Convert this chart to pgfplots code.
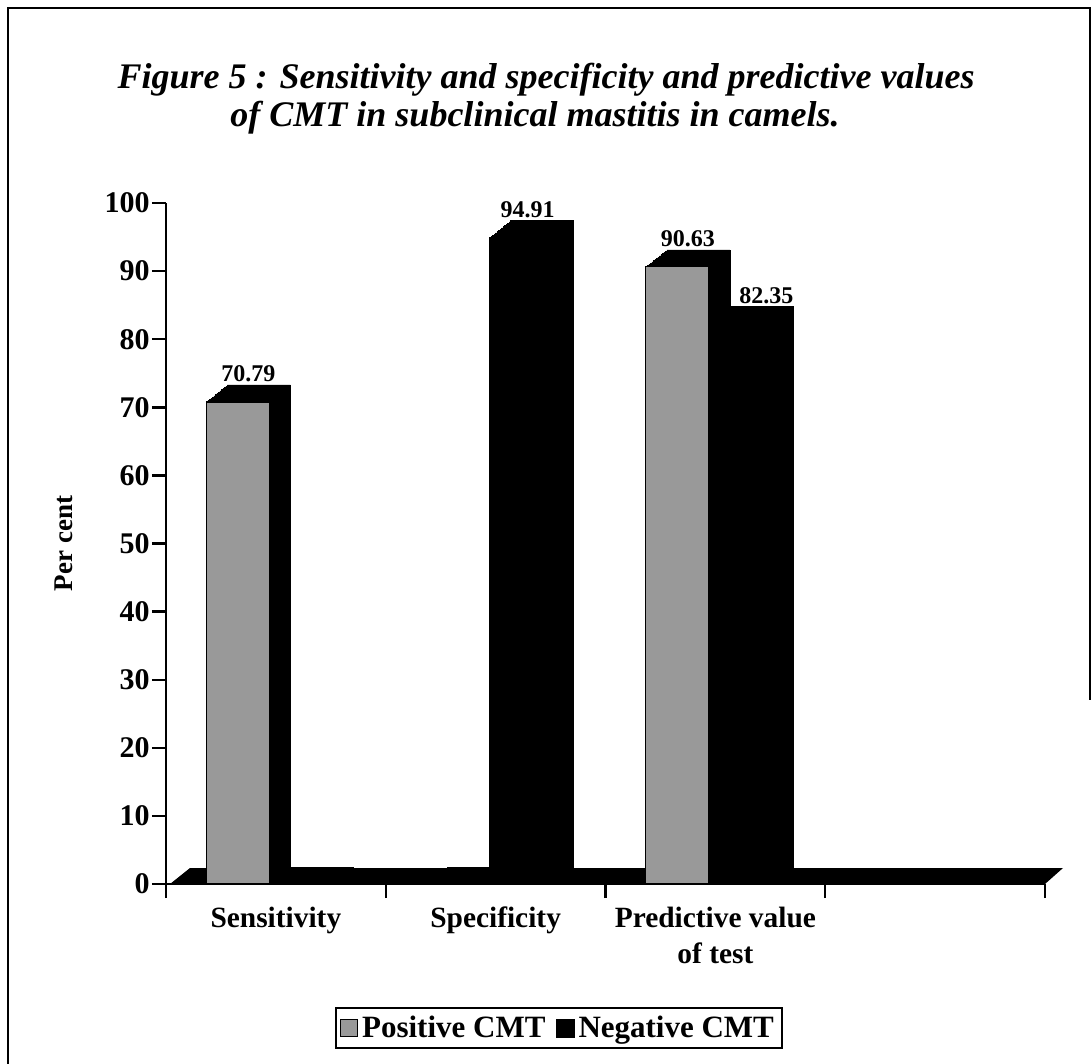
\documentclass[border=0pt]{standalone}
\usepackage{fontspec}
\setmainfont{Liberation Serif}
\usepackage{pgfplots}
\pgfplotsset{compat=1.18}
\begin{document}
\begin{tikzpicture}[x=0.5pt,y=-0.5pt]
\useasboundingbox (0,0) rectangle (1092,1064);
\draw[line width=1.2pt] (8,1064) -- (8,8) -- (1090,8) -- (1090,700);
\node[font=\bfseries\itshape\fontsize{18}{22}\selectfont, anchor=base] at (546,89) {Figure 5 : Sensitivity and specificity and predictive values};
\node[font=\bfseries\itshape\fontsize{18}{22}\selectfont, anchor=base] at (535,127) {of CMT in subclinical mastitis in camels.};
\fill[black] (170,884) -- (1045,884) -- (1063,868) -- (190,868) -- cycle;
\begin{axis}[
  at={(83pt,-442pt)}, anchor=south west,
  width=439.5pt, height=340.5pt, scale only axis,
  xmin=-0.5, xmax=3.5, ymin=0, ymax=100,
  axis x line*=bottom, axis y line*=left,
  axis line style={line width=1.2pt},
  every tick/.style={black, line width=1.2pt},
  tick align=outside,
  major tick length=7pt,
  ytick={0,10,...,100},
  xtick={-0.5,0.5,1.5,2.5,3.5},
  xticklabels={},
  extra x ticks={0,1,2},
  extra x tick labels={Sensitivity,Specificity,{Predictive value\\of test}},
  extra x tick style={major tick length=0pt, xticklabel style={yshift=-8pt}},
  xticklabel style={align=center, font=\bfseries\fontsize{14.7}{18}\selectfont},
  yticklabel style={font=\bfseries\fontsize{15}{18}\selectfont, inner sep=1pt},
  /pgf/number format/assume math mode=true,
  ylabel={Per cent},
  ylabel style={at={(axis description cs:-0.116,0.5)}, anchor=center, font=\bfseries\fontsize{13.5}{16}\selectfont},
  legend style={at={(axis description cs:0.447,-0.2115)}, anchor=center, legend columns=2, draw=black, line width=1pt,
    font=\bfseries\fontsize{15.5}{18}\selectfont, inner xsep=2pt, inner ysep=2pt,
    /tikz/every even column/.append style={column sep=3pt}},
  legend cell align=left,
]
\pgfplotsinvokeforeach{1,...,14}{
  \addplot[ybar, bar width=31.5pt, bar shift=-19pt, fill=black, draw=black, line width=0.3pt, forget plot,
    xshift=#1*0.75pt, yshift=#1*0.607pt] coordinates {(0,70.79) (1,0) (2,90.63)};
}
\addplot[ybar, bar width=31.5pt, bar shift=-19pt, fill=black!40, draw=black, line width=0.6pt, forget plot,
  point meta=explicit symbolic, nodes near coords,
  every node near coord/.append style={font=\bfseries\fontsize{12}{13}\selectfont, xshift=-13.75pt, yshift=8.5pt, anchor=south, inner sep=1pt}]
  coordinates {(0,70.79)[70.79] (1,0)[] (2,90.63)[90.63]};
\pgfplotsinvokeforeach{1,...,14}{
  \addplot[ybar, bar width=31.5pt, bar shift=12.75pt, fill=black, draw=black, line width=0.3pt, forget plot,
    xshift=#1*0.75pt, yshift=#1*0.607pt] coordinates {(0,0) (1,94.91) (2,82.35)};
}
\addplot[ybar, bar width=31.5pt, bar shift=12.75pt, fill=black, draw=black, line width=0.6pt, forget plot,
  point meta=explicit symbolic, nodes near coords,
  every node near coord/.append style={font=\bfseries\fontsize{12}{13}\selectfont, xshift=16pt, yshift=8.5pt, anchor=south, inner sep=1pt}]
  coordinates {(0,0)[] (1,94.91)[94.91]};
\addplot[ybar, bar width=31.5pt, bar shift=12.75pt, fill=black, draw=black, line width=0.6pt, forget plot,
  point meta=explicit symbolic, nodes near coords,
  every node near coord/.append style={font=\bfseries\fontsize{12}{13}\selectfont, xshift=25.5pt, yshift=8.5pt, anchor=south, inner sep=1pt}]
  coordinates {(2,82.35)[82.35]};
\addlegendimage{legend image code/.code={\draw[fill=black!40, draw=black, line width=0.6pt] (0pt,-4.25pt) rectangle (8.5pt,4.25pt);}}
\addlegendentry{Positive CMT}
\addlegendimage{legend image code/.code={\fill[black] (0pt,-4.25pt) rectangle (8.5pt,4.25pt);}}
\addlegendentry{Negative CMT}
\end{axis}
\end{tikzpicture}
\end{document}
